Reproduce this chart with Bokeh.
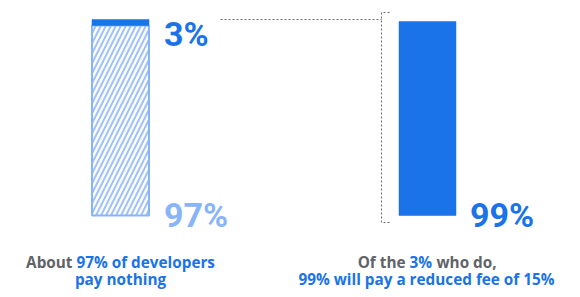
from bokeh.plotting import figure
from bokeh.models import Range1d
from bokeh.core.properties import value
from bokeh.embed import file_html
from bokeh.resources import INLINE

# ---- data ----
categories = ["All developers", "Developers who pay"]
pay_nothing = [97]          # % of all developers paying nothing
pay_fee = [3]               # % of all developers paying a fee
reduced_fee = [99]          # % of payers on reduced 15% fee
label_all_top = "3%"
label_all_bottom = "97%"
label_payers = "99%"

# ---- layout helpers (pixel geometry of the canvas) ----
W, H = 580, 297
BASE_PX, TOP_PX = 215.0, 19.0
PPU = (BASE_PX - TOP_PX) / 100.0


def ypx(py):
    return (BASE_PX - py) / PPU


BLUE = "#1a73e8"
LIGHT = "#8ab4f8"
HATCH = "#9fc2f9"
GRAY = "#5f6368"
DOT = "#6b6b6b"
FONT = value("Roboto")
CAPFONT = value("Open Sans")

p = figure(width=W, height=H, output_backend="svg", toolbar_location=None,
           x_range=Range1d(0, W), y_range=Range1d(ypx(H), ypx(0)),
           min_border=0, min_border_left=0, min_border_right=0,
           min_border_top=0, min_border_bottom=0)
p.axis.visible = False
p.grid.visible = False
p.outline_line_color = None
p.background_fill_color = "white"
p.border_fill_color = "white"

x_left, x_right, bw = 120, 427, 57

# left bar: hatched 97% + solid 3%
p.vbar(x=[x_left], top=pay_nothing, bottom=0, width=bw,
       fill_color="white", line_color=LIGHT, line_width=2,
       hatch_pattern="/", hatch_color=HATCH, hatch_scale=10, hatch_weight=2)
p.vbar(x=[x_left], bottom=pay_nothing,
       top=[pay_nothing[0] + pay_fee[0]], width=bw,
       fill_color=BLUE, line_color=BLUE, line_width=0.5)

# right bar: 99%
p.vbar(x=[x_right], top=reduced_fee, bottom=0, width=bw,
       fill_color=BLUE, line_color=BLUE, line_width=0.5)

# dotted connector
total = pay_nothing[0] + pay_fee[0]
p.line(x=[220, 381], y=[total, total], line_color=DOT, line_dash="2 2", line_width=1)
p.line(x=[389, 381, 381, 389], y=[ypx(12), ypx(12), ypx(222), ypx(222)],
       line_color=DOT, line_dash="2 2", line_width=1)

# big labels
big = dict(text_font=FONT, text_font_style="bold", text_font_size="34px",
           text_baseline="alphabetic", text_align="left")
p.text(x=[x_left + bw / 2 + 15], y=[ypx(33)], text=[label_all_top], text_color=BLUE, **big)
p.text(x=[x_left + bw / 2 + 15], y=[ypx(214)], text=[label_all_bottom], text_color=LIGHT, **big)
p.text(x=[x_right + bw / 2 + 14], y=[ypx(214)], text=[label_payers], text_color=BLUE, **big)

# captions
cap = dict(text_font=CAPFONT, text_font_style="bold", text_font_size="15.3px",
           text_baseline="alphabetic")
p.text(x=[72], y=[ypx(261)], text=["About"], text_color=GRAY, text_align="right", **cap)
p.text(x=[76], y=[ypx(261)], text=["97% of developers"], text_color=BLUE, text_align="left", **cap)
p.text(x=[120], y=[ypx(278)], text=["pay nothing"], text_color=BLUE, text_align="center", **cap)

p.text(x=[405], y=[ypx(261)], text=["Of the"], text_color=GRAY, text_align="right", **cap)
p.text(x=[409], y=[ypx(261)], text=["3%"], text_color=BLUE, text_align="left", **cap)
p.text(x=[436], y=[ypx(261)], text=["who do,"], text_color=GRAY, text_align="left", **cap)
p.text(x=[426], y=[ypx(278)], text=["99% will pay a reduced fee of 15%"], text_color=BLUE,
       text_align="center", **cap)

open("out.html", "w").write(file_html(p, INLINE))
